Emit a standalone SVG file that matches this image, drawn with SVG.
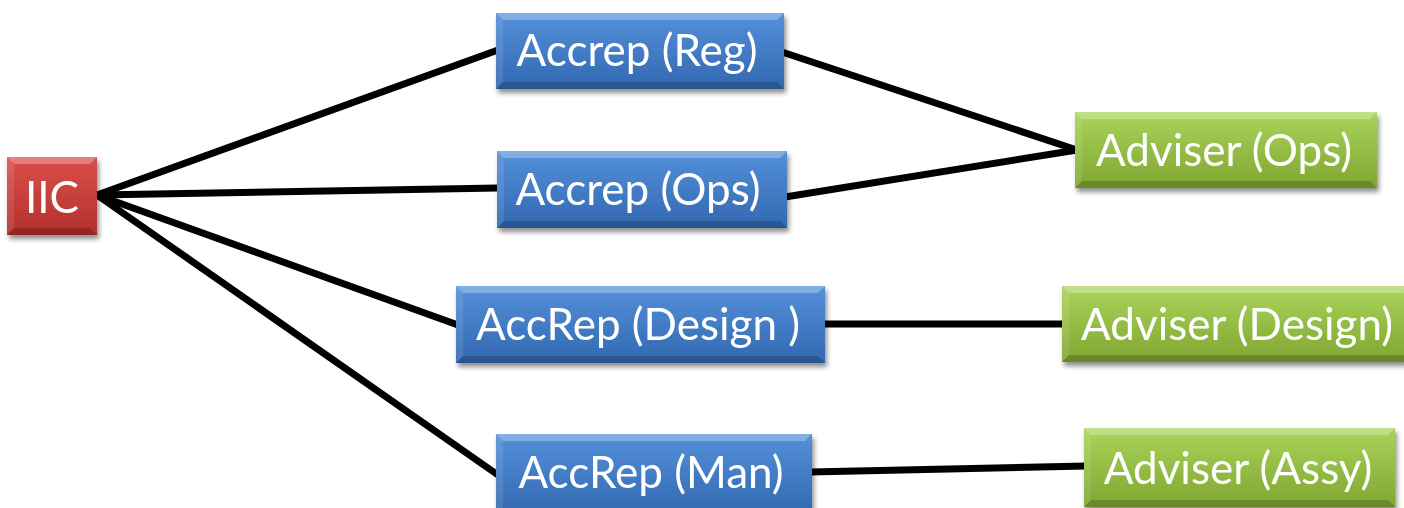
<svg xmlns="http://www.w3.org/2000/svg" width="1404" height="508" viewBox="0 0 1404 508">
<defs>
<linearGradient id="gb" x1="0" y1="0" x2="0" y2="1"><stop offset="0" stop-color="#5590da"/><stop offset="1" stop-color="#3168b0"/></linearGradient>
<linearGradient id="gg" x1="0" y1="0" x2="0" y2="1"><stop offset="0" stop-color="#aad45a"/><stop offset="1" stop-color="#7fa631"/></linearGradient>
<linearGradient id="gr" x1="0" y1="0" x2="0" y2="1"><stop offset="0" stop-color="#da4f4b"/><stop offset="1" stop-color="#b3302c"/></linearGradient>
<filter id="sh" x="-10%" y="-10%" width="125%" height="140%"><feGaussianBlur in="SourceAlpha" stdDeviation="2.5"/><feOffset dx="2" dy="4"/><feComponentTransfer><feFuncA type="linear" slope="0.45"/></feComponentTransfer><feMerge><feMergeNode/><feMergeNode in="SourceGraphic"/></feMerge></filter>
</defs>
<style>
.c{stroke:#000;stroke-width:7;fill:none;stroke-linecap:butt}
.t{font-family:Lato,"Open Sans","Liberation Sans",sans-serif;font-size:44px;fill:#fff;text-anchor:middle}
.hi{fill:#fff;opacity:0.28}
.lo{fill:#000;opacity:0.18}
.sd{fill:#fff;opacity:0.1}
</style>
<g id="connectors">
<line class="c" x1="97" y1="195" x2="498" y2="50"/>
<line class="c" x1="97" y1="195" x2="498" y2="188"/>
<line class="c" x1="97" y1="195" x2="458" y2="325"/>
<line class="c" x1="97" y1="195" x2="498" y2="475"/>
<line class="c" x1="782" y1="52" x2="1077" y2="150"/>
<line class="c" x1="785" y1="197" x2="1077" y2="150"/>
<line class="c" x1="823" y1="324" x2="1064" y2="324"/>
<line class="c" x1="810" y1="472" x2="1086" y2="466"/>
</g>
<g id="iic" filter="url(#sh)">
<rect x="7" y="157" width="90" height="78" fill="url(#gr)"/>
<polygon class="hi" points="7,157 97,157 90,164 14,164"/>
<polygon class="lo" points="7,235 97,235 90,228 14,228"/>
<polygon class="sd" points="7,157 14,164 14,228 7,235"/>
<text class="t" x="52" y="213">IIC</text>
</g>
<g id="accrep-reg" filter="url(#sh)">
<rect x="496" y="13" width="288" height="76" fill="url(#gb)"/>
<polygon class="hi" points="496,13 784,13 777,20 503,20"/>
<polygon class="lo" points="496,89 784,89 777,82 503,82"/>
<polygon class="sd" points="496,13 503,20 503,82 496,89"/>
<text class="t" x="637" y="66">Accrep (Reg)</text>
</g>
<g id="accrep-ops" filter="url(#sh)">
<rect x="497" y="151" width="290" height="77" fill="url(#gb)"/>
<polygon class="hi" points="497,151 787,151 780,158 504,158"/>
<polygon class="lo" points="497,228 787,228 780,221 504,221"/>
<polygon class="sd" points="497,151 504,158 504,221 497,228"/>
<text class="t" x="638" y="205">Accrep (Ops)</text>
</g>
<g id="accrep-design" filter="url(#sh)">
<rect x="456" y="286" width="369" height="77" fill="url(#gb)"/>
<polygon class="hi" points="456,286 825,286 818,293 463,293"/>
<polygon class="lo" points="456,363 825,363 818,356 463,356"/>
<polygon class="sd" points="456,286 463,293 463,356 456,363"/>
<text class="t" x="638" y="340">AccRep (Design )</text>
</g>
<g id="accrep-man" filter="url(#sh)">
<rect x="496" y="434" width="316" height="80" fill="url(#gb)"/>
<polygon class="hi" points="496,434 812,434 805,441 503,441"/>
<polygon class="sd" points="496,434 503,441 503,514 496,514"/>
<text class="t" x="651" y="488">AccRep (Man)</text>
</g>
<g id="adviser-ops" filter="url(#sh)">
<rect x="1075" y="112" width="302" height="76" fill="url(#gg)"/>
<polygon class="hi" points="1075,112 1377,112 1370,119 1082,119"/>
<polygon class="lo" points="1075,188 1377,188 1370,181 1082,181"/>
<polygon class="sd" points="1075,112 1082,119 1082,181 1075,188"/>
<text class="t" x="1224" y="166">Adviser (Ops)</text>
</g>
<g id="adviser-design" filter="url(#sh)">
<rect x="1062" y="286" width="350" height="76" fill="url(#gg)"/>
<polygon class="hi" points="1062,286 1412,286 1405,293 1069,293"/>
<polygon class="lo" points="1062,362 1412,362 1405,355 1069,355"/>
<polygon class="sd" points="1062,286 1069,293 1069,355 1062,362"/>
<text class="t" x="1237" y="340">Adviser (Design)</text>
</g>
<g id="adviser-assy" filter="url(#sh)">
<rect x="1084" y="428" width="311" height="79" fill="url(#gg)"/>
<polygon class="hi" points="1084,428 1395,428 1388,435 1091,435"/>
<polygon class="lo" points="1084,507 1395,507 1388,500 1091,500"/>
<polygon class="sd" points="1084,428 1091,435 1091,500 1084,507"/>
<text class="t" x="1238" y="484">Adviser (Assy)</text>
</g>
</svg>
